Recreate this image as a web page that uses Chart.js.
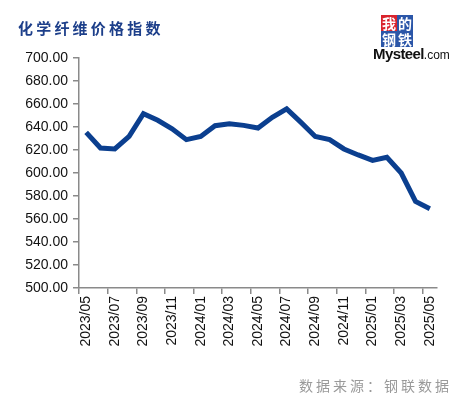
<!DOCTYPE html>
<html>
<head>
<meta charset="utf-8">
<script src="https://cdn.jsdelivr.net/npm/chart.js@4"></script>
<style>
  html, body { margin: 0; padding: 0; background: #fff; }
  #wrap { position: relative; width: 458px; height: 397px; overflow: hidden; }
  #title { position: absolute; left: 18px; top: 17px; font: bold 15px "Noto Sans CJK SC", sans-serif;
           color: #1d3f8a; letter-spacing: 3.2px; white-space: nowrap; }
  #source { position: absolute; right: 6px; top: 375px; font: 14px "Noto Sans CJK SC", sans-serif;
            color: #9a9a9a; letter-spacing: 3px; white-space: nowrap; }
  #logo { position: absolute; left: 373px; top: 14px; width: 76px; height: 54px; }
  .cell { position: absolute; width: 16px; height: 16px; color: #fff; font: bold 14px "Noto Sans CJK SC", sans-serif;
          line-height: 16px; text-align: center; }
  #brand { position: absolute; left: 0; top: 31px; font: bold 15px "Liberation Sans", Arial, sans-serif;
           color: #111; letter-spacing: -0.6px; white-space: nowrap; }
  #brand small { font-size: 12px; font-weight: normal; letter-spacing: 0; }
</style>
</head>
<body>
<div id="wrap">
  <canvas id="chart" width="458" height="397"></canvas>
  <div id="title">化学纤维价格指数</div>
  <div id="logo">
    <div class="cell" style="left:8px;top:1px;background:#d9232d;">我</div>
    <div class="cell" style="left:24px;top:1px;background:#2b56a8;">的</div>
    <div class="cell" style="left:8px;top:17px;background:#2b56a8;">钢</div>
    <div class="cell" style="left:24px;top:17px;background:#2b56a8;">铁</div>
    <div id="brand">Mysteel<small>.com</small></div>
  </div>
  <div id="source">数据来源：钢联数据</div>
</div>
<script>
// 月度数据 2023/05 - 2025/05
const months = [
    '2023/05', '2023/06', '2023/07', '2023/08', '2023/09', '2023/10', '2023/11', '2023/12',
    '2024/01', '2024/02', '2024/03', '2024/04', '2024/05', '2024/06', '2024/07', '2024/08',
    '2024/09', '2024/10', '2024/11', '2024/12', '2025/01', '2025/02', '2025/03', '2025/04', '2025/05'
];
const priceIndex = [
    635.3, 621.7, 620.9, 631.8, 651.6, 645.8, 638.5, 629.0,
    631.8, 641.1, 642.9, 641.4, 639.1, 648.4, 655.7, 644.0,
    631.8, 629.0, 620.9, 615.7, 611.0, 613.6, 600.0, 575.3, 569.0
];
const yMin = 500;
const yMax = 700;
const yStep = 20;

const axisGray = '#8a8a8a';
const lineBlue = '#0b3f8f';

new Chart(document.getElementById('chart'), {
    type: 'line',
    data: {
        labels: months,
        datasets: [{
            data: priceIndex,
            borderColor: lineBlue,
            borderWidth: 5,
            pointRadius: 0,
            tension: 0,
            fill: false
        }]
    },
    options: {
        responsive: false,
        animation: false,
        layout: { padding: { top: 58, right: 21, left: 0, bottom: 0 } },
        plugins: { legend: { display: false }, tooltip: { enabled: false } },
        scales: {
            x: {
                offset: true,
                grid: {
                    offset: true,
                    drawOnChartArea: false,
                    tickLength: 6,
                    color: ctx => (ctx.index % 2 === 0 && ctx.index < months.length) ? axisGray : 'rgba(0,0,0,0)',
                    lineWidth: 1.5
                },
                border: { color: axisGray, width: 1.5 },
                ticks: {
                    autoSkip: false,
                    minRotation: 90,
                    maxRotation: 90,
                    padding: 2,
                    color: '#111',
                    font: { family: 'Liberation Sans', size: 14 },
                    callback: (v, i) => (i % 2 === 0 ? months[i] : '')
                },
                afterFit: scale => { scale.height = 109; }
            },
            y: {
                min: yMin,
                max: yMax,
                grid: { drawOnChartArea: false, tickLength: 6, color: axisGray, lineWidth: 1.5 },
                border: { color: axisGray, width: 1.5 },
                ticks: {
                    stepSize: yStep,
                    padding: 5,
                    color: '#111',
                    font: { family: 'Liberation Sans', size: 14 },
                    callback: v => v.toFixed(2)
                },
                afterFit: scale => { scale.width = 79; }
            }
        }
    }
});
</script>
</body>
</html>
